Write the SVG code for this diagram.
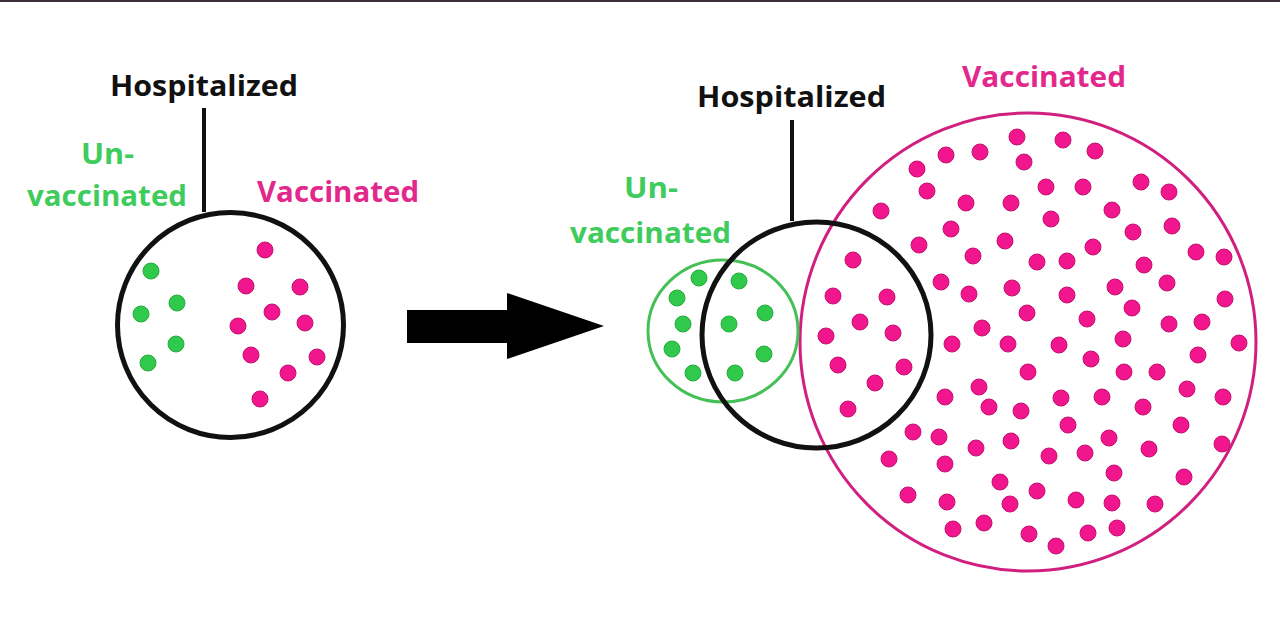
<svg xmlns="http://www.w3.org/2000/svg" width="1280" height="624" viewBox="0 0 1280 624">
<style>
.t{font-family:"Open Sans","Liberation Sans",Arial,sans-serif;font-weight:bold;font-size:29px}
.blk{fill:#111}
.grn{fill:#3fcc5c}
.pnk{fill:#e3288c}
.ring{fill:none;stroke:#111;stroke-width:5}
.gring{fill:none;stroke:#45c057;stroke-width:3}
.pring{fill:none;stroke:#d11f80;stroke-width:3}
.pd{fill:#f2168e;stroke:#c4116e;stroke-width:1}
.gd{fill:#30c94b;stroke:#27aa3e;stroke-width:1}
.conn{stroke:#111;stroke-width:4;fill:none}
</style>
<defs>
<circle id="p" r="8" class="pd"/>
<circle id="g" r="8" class="gd"/>
</defs>
<rect x="0" y="0" width="1280" height="624" fill="#ffffff"/>
<rect x="0" y="0" width="1280" height="2" fill="#3a2f38"/>

<g id="connectors">
<line class="conn" x1="204" y1="108" x2="204" y2="212"/>
<line class="conn" x1="792" y1="120" x2="792" y2="221"/>
<path id="arrow" d="M407 310 H507 V293 L604 326 L507 359 V343 H407 Z" fill="#000"/>
</g>

<g id="left-hospitalized-label"><text class="t blk" x="110" y="96" textLength="188" lengthAdjust="spacingAndGlyphs">Hospitalized</text></g>
<g id="left-unvaccinated-label">
<text class="t grn" x="81" y="164" textLength="53" lengthAdjust="spacingAndGlyphs">Un-</text>
<text class="t grn" x="27" y="206" textLength="160" lengthAdjust="spacingAndGlyphs">vaccinated</text>
</g>
<g id="left-vaccinated-label"><text class="t pnk" x="257" y="202" textLength="162" lengthAdjust="spacingAndGlyphs">Vaccinated</text></g>

<g id="left-circle">
<ellipse class="ring" cx="230.5" cy="325" rx="113" ry="112.5"/>
<use href="#g" x="151" y="271"/><use href="#g" x="177" y="303"/><use href="#g" x="141" y="314"/>
<use href="#g" x="176" y="344"/><use href="#g" x="148" y="363"/>
<use href="#p" x="265" y="250"/><use href="#p" x="246" y="286"/><use href="#p" x="300" y="287"/>
<use href="#p" x="272" y="312"/><use href="#p" x="238" y="326"/><use href="#p" x="305" y="323"/>
<use href="#p" x="251" y="355"/><use href="#p" x="317" y="357"/><use href="#p" x="288" y="373"/>
<use href="#p" x="260" y="399"/>
</g>

<g id="right-hospitalized-label"><text class="t blk" x="697" y="107" textLength="189" lengthAdjust="spacingAndGlyphs">Hospitalized</text></g>
<g id="right-unvaccinated-label">
<text class="t grn" x="624" y="198" textLength="54" lengthAdjust="spacingAndGlyphs">Un-</text>
<text class="t grn" x="570" y="243" textLength="161" lengthAdjust="spacingAndGlyphs">vaccinated</text>
</g>
<g id="right-vaccinated-label"><text class="t pnk" x="962" y="87" textLength="164" lengthAdjust="spacingAndGlyphs">Vaccinated</text></g>

<g id="vaccinated-circle">
<ellipse class="pring" cx="1028" cy="342" rx="228" ry="229"/>
<use href="#p" x="1017" y="137"/><use href="#p" x="946" y="155"/><use href="#p" x="980" y="152"/>
<use href="#p" x="1024" y="162"/><use href="#p" x="917" y="169"/><use href="#p" x="927" y="191"/>
<use href="#p" x="966" y="203"/><use href="#p" x="1011" y="203"/><use href="#p" x="881" y="211"/>
<use href="#p" x="951" y="229"/><use href="#p" x="919" y="245"/><use href="#p" x="1005" y="241"/>
<use href="#p" x="973" y="256"/><use href="#p" x="1037" y="262"/><use href="#p" x="853" y="260"/>
<use href="#p" x="941" y="282"/><use href="#p" x="969" y="294"/><use href="#p" x="1012" y="288"/>
<use href="#p" x="1027" y="313"/><use href="#p" x="833" y="296"/><use href="#p" x="887" y="297"/>
<use href="#p" x="860" y="322"/><use href="#p" x="826" y="336"/><use href="#p" x="893" y="333"/>
<use href="#p" x="982" y="328"/><use href="#p" x="952" y="344"/><use href="#p" x="1008" y="344"/>
<use href="#p" x="1063" y="140"/><use href="#p" x="1095" y="151"/><use href="#p" x="1046" y="187"/>
<use href="#p" x="1083" y="187"/><use href="#p" x="1141" y="182"/><use href="#p" x="1169" y="192"/>
<use href="#p" x="1112" y="210"/><use href="#p" x="1051" y="219"/><use href="#p" x="1133" y="232"/>
<use href="#p" x="1172" y="226"/><use href="#p" x="1093" y="247"/><use href="#p" x="1067" y="261"/>
<use href="#p" x="1144" y="265"/><use href="#p" x="1196" y="252"/><use href="#p" x="1224" y="257"/>
<use href="#p" x="1115" y="287"/><use href="#p" x="1167" y="283"/><use href="#p" x="1067" y="295"/>
<use href="#p" x="1132" y="308"/><use href="#p" x="1225" y="299"/><use href="#p" x="1087" y="319"/>
<use href="#p" x="1169" y="324"/><use href="#p" x="1202" y="322"/><use href="#p" x="1123" y="339"/>
<use href="#p" x="1059" y="345"/><use href="#p" x="1239" y="343"/><use href="#p" x="1091" y="359"/>
<use href="#p" x="1198" y="355"/><use href="#p" x="1124" y="372"/><use href="#p" x="1157" y="372"/>
<use href="#p" x="838" y="365"/><use href="#p" x="904" y="367"/><use href="#p" x="1028" y="372"/>
<use href="#p" x="875" y="383"/><use href="#p" x="979" y="387"/><use href="#p" x="945" y="397"/>
<use href="#p" x="989" y="407"/><use href="#p" x="1021" y="411"/><use href="#p" x="848" y="409"/>
<use href="#p" x="913" y="432"/><use href="#p" x="939" y="437"/><use href="#p" x="976" y="448"/>
<use href="#p" x="1011" y="441"/><use href="#p" x="889" y="459"/><use href="#p" x="945" y="464"/>
<use href="#p" x="1000" y="482"/><use href="#p" x="1037" y="491"/><use href="#p" x="908" y="495"/>
<use href="#p" x="947" y="502"/><use href="#p" x="1010" y="504"/><use href="#p" x="953" y="529"/>
<use href="#p" x="984" y="523"/><use href="#p" x="1029" y="534"/><use href="#p" x="1061" y="398"/>
<use href="#p" x="1102" y="397"/><use href="#p" x="1187" y="389"/><use href="#p" x="1223" y="397"/>
<use href="#p" x="1143" y="407"/><use href="#p" x="1068" y="425"/><use href="#p" x="1181" y="425"/>
<use href="#p" x="1109" y="438"/><use href="#p" x="1222" y="444"/><use href="#p" x="1149" y="449"/>
<use href="#p" x="1049" y="456"/><use href="#p" x="1085" y="453"/><use href="#p" x="1114" y="473"/>
<use href="#p" x="1184" y="477"/><use href="#p" x="1076" y="500"/><use href="#p" x="1112" y="503"/>
<use href="#p" x="1155" y="504"/><use href="#p" x="1056" y="546"/><use href="#p" x="1088" y="533"/>
<use href="#p" x="1117" y="528"/>
</g>

<g id="unvaccinated-circle">
<ellipse class="gring" cx="723" cy="331" rx="75" ry="71"/>
<use href="#g" x="699" y="278"/><use href="#g" x="739" y="281"/><use href="#g" x="677" y="298"/>
<use href="#g" x="765" y="313"/><use href="#g" x="683" y="324"/><use href="#g" x="729" y="324"/>
<use href="#g" x="672" y="349"/><use href="#g" x="764" y="354"/><use href="#g" x="693" y="373"/>
<use href="#g" x="735" y="373"/>
</g>

<g id="hospitalized-circle">
<ellipse class="ring" cx="816.5" cy="335" rx="114.5" ry="113"/>
</g>
</svg>
